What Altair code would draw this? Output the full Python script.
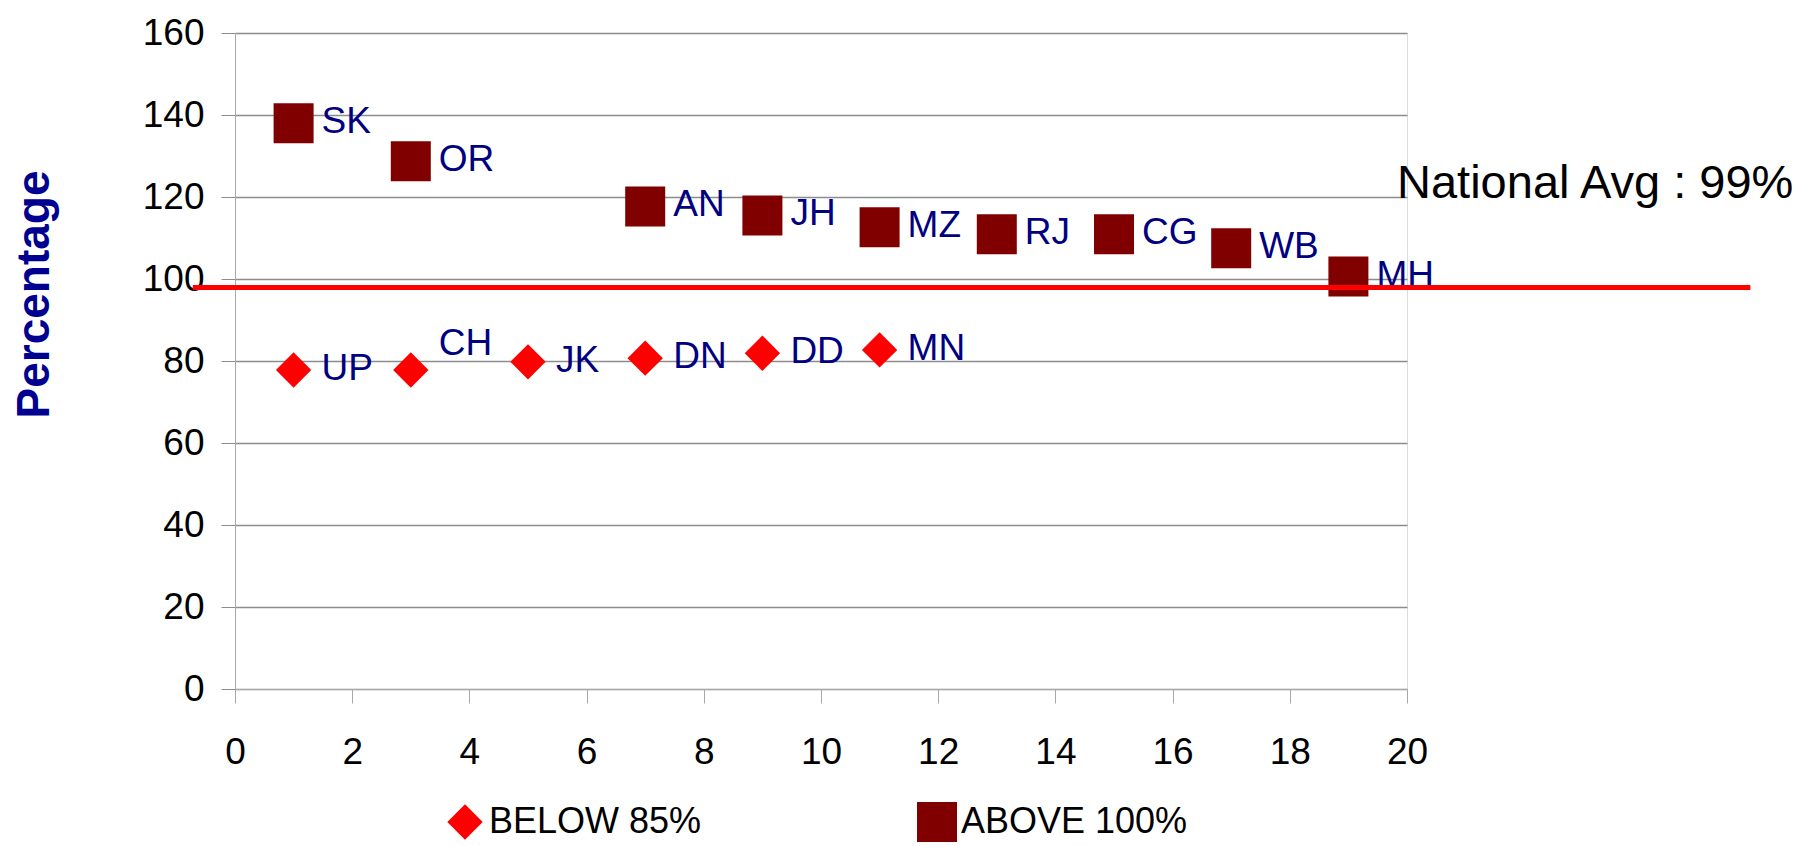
import altair as alt
import pandas as pd

# ---- data ----
above_labels = ["SK", "OR", "AN", "JH", "MZ", "RJ", "CG", "WB", "MH"]
above_x = [1, 3, 7, 9, 11, 13, 15, 17, 19]
above_y = [138, 128.7, 117.7, 115.5, 112.6, 110.9, 110.9, 107.5, 100.6]

below_labels = ["UP", "CH", "JK", "DN", "DD", "MN"]
below_x = [1, 3, 5, 7, 9, 11]
below_y = [77.8, 77.8, 79.8, 80.7, 81.9, 82.7]

series_names = ["BELOW 85%", "ABOVE 100%"]
series_colors = ["#FF0000", "#800000"]
series_shapes = ["diamond", "square"]
series_sizes = [1250, 1600]

national_avg_value = 97.9
national_avg_x = [-0.72, 25.86]
note_text = ["National Avg : 99%"]
note_x = [19.83]
note_y = [119.7]

x_ticks = list(range(0, 21, 2))
y_ticks = list(range(0, 161, 20))

FONT = "Liberation Sans"

pts = pd.DataFrame(
    {
        "x": below_x + above_x,
        "y": below_y + above_y,
        "label": below_labels + above_labels,
        "series": [series_names[0]] * len(below_x) + [series_names[1]] * len(above_x),
    }
)
line_df = pd.DataFrame({"x": [national_avg_x[0]], "x2": [national_avg_x[1]], "y": [national_avg_value]})
note_df = pd.DataFrame({"x": note_x, "y": note_y, "text": note_text})

xscale = alt.Scale(domain=[0, 20], nice=False, zero=False)
yscale = alt.Scale(domain=[0, 160], nice=False)

x_axis = alt.Axis(
    values=x_ticks, format="d", grid=False, tickSize=14, labelPadding=31, title=None,
    domainColor="#a8a8a8", tickColor="#a8a8a8", labelFont=FONT, labelFontSize=37,
    labelColor="black", labelFlush=False,
)
y_axis = alt.Axis(
    values=y_ticks, format="d", grid=True, gridColor="#8c8c8c", gridWidth=1.5, tickSize=14,
    tickColor="#8c8c8c", domainColor="#a8a8a8", labelPadding=17, labelFont=FONT,
    labelFontSize=37, labelColor="black",
    title="Percentage", titleFont=FONT, titleFontSize=46, titleFontWeight="bold",
    titleColor="#000090", titleX=-201, titleY=261, titleAngle=-90,
    titleAlign="center", titleBaseline="middle",
)

points = alt.Chart(pts).mark_point(filled=True, opacity=1, strokeWidth=0).encode(
    x=alt.X("x:Q", scale=xscale, axis=x_axis),
    y=alt.Y("y:Q", scale=yscale, axis=y_axis),
    color=alt.Color(
        "series:N",
        scale=alt.Scale(domain=series_names, range=series_colors),
        legend=alt.Legend(
            title=None, orient="none", legendX=210, legendY=769, direction="horizontal",
            columns=2, columnPadding=215, labelFont=FONT, labelFontSize=36, labelColor="black",
            labelOffset=4, labelLimit=500, symbolSize=1000, symbolStrokeWidth=0, padding=0,
        ),
    ),
    shape=alt.Shape("series:N", scale=alt.Scale(domain=series_names, range=series_shapes)),
    size=alt.Size("series:N", scale=alt.Scale(domain=series_names, range=series_sizes), legend=None),
)

labels = alt.Chart(pts).transform_filter(alt.datum.label != "CH").mark_text(
    align="left", baseline="alphabetic", dx=28, dy=10, font=FONT, fontSize=37, color="#000080"
).encode(x=alt.X("x:Q", scale=xscale), y=alt.Y("y:Q", scale=yscale), text="label:N")

label_ch = alt.Chart(pts).transform_filter(alt.datum.label == "CH").mark_text(
    align="left", baseline="alphabetic", dx=28, dy=-15, font=FONT, fontSize=37, color="#000080"
).encode(x=alt.X("x:Q", scale=xscale), y=alt.Y("y:Q", scale=yscale), text="label:N")

avg_line = alt.Chart(line_df).mark_rule(color="#FF0000", strokeWidth=5).encode(
    x=alt.X("x:Q", scale=xscale), x2="x2:Q", y=alt.Y("y:Q", scale=yscale)
)

note = alt.Chart(note_df).mark_text(
    align="left", baseline="alphabetic", font=FONT, fontSize=47, color="black"
).encode(x=alt.X("x:Q", scale=xscale), y=alt.Y("y:Q", scale=yscale), text="text:N")

chart = (
    alt.layer(points, labels, label_ch, avg_line, note)
    .properties(
        width=1172, height=656,
        padding={"left": 227, "top": 25, "right": 392, "bottom": 154},
        autosize=alt.AutoSizeParams(type="none"),
    )
    .configure_view(stroke=None)
    .configure(background="white")
)

chart.save("out.html", embed_options={"renderer": "svg", "actions": False})
